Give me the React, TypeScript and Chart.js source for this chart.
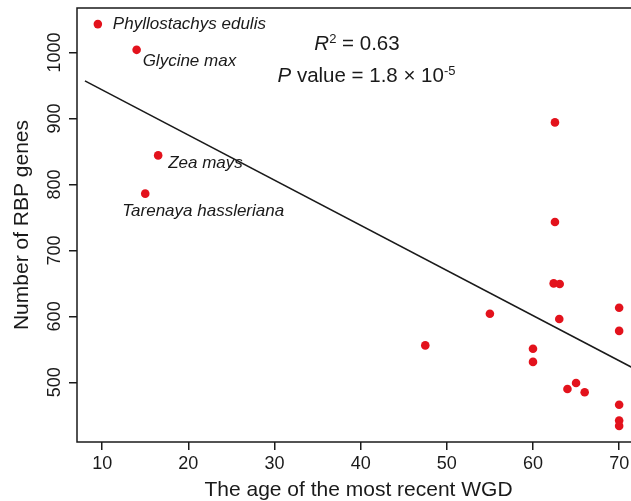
import React, { useEffect, useRef } from 'react';
import { Chart, registerables } from 'chart.js';

Chart.register(...registerables);

// ---- data ----
const wgdAge = [9.5, 14, 16.5, 15, 62.55, 62.55, 62.4, 63.1, 55, 63.05, 70, 70, 47.5, 60, 60, 65, 64, 66, 70, 70, 70];
const rbpGenes = [1043, 1004, 844, 786, 894, 743, 650, 649, 604, 596, 613, 578, 556, 551, 531, 499, 490, 485, 466, 442, 434];

const speciesNames = ['Phyllostachys edulis', 'Glycine max', 'Zea mays', 'Tarenaya hassleriana'];
const speciesIndex = [0, 1, 2, 3];

const fitAge = [8, 72];
const fitGenes = [957, 519];

const xTicks = [10, 20, 30, 40, 50, 60, 70];
const yTicks = [500, 600, 700, 800, 900, 1000];
const yTickLabels = ['500', '600', '700', '800', '900', '1000'];

const rSquared = '0.63';
const pMantissa = '1.8';
const pExponent = '-5';

const xTitle = 'The age of the most recent WGD';
const yTitle = 'Number of RBP genes';

// ---- style ----
const FONT = '"Liberation Sans", Arial, Helvetica, sans-serif';
const INK = '#1a1a1a';
const RED = '#e3121c';

// label placement offsets (pixels from the point)
const labelOffsets = [
  { dx: 15, dy: 0 },
  { dx: 6, dy: 11 },
  { dx: 10, dy: 8 },
  { dx: -23, dy: 18 },
];

const boxPlugin = {
  id: 'boxPlugin',
  afterDraw(chart: any) {
    const { ctx, chartArea } = chart;
    ctx.save();
    ctx.strokeStyle = INK;
    ctx.lineWidth = 1.5;
    ctx.strokeRect(chartArea.left, chartArea.top, chartArea.right - chartArea.left, chartArea.bottom - chartArea.top);
    // y tick labels, rotated
    const ys = chart.scales.y;
    ctx.fillStyle = INK;
    ctx.font = `18px ${FONT}`;
    ctx.textAlign = 'center';
    ctx.textBaseline = 'middle';
    yTicks.forEach((v, i) => {
      const py = ys.getPixelForValue(v);
      ctx.save();
      ctx.translate(chartArea.left - 22, py);
      ctx.rotate(-Math.PI / 2);
      ctx.fillText(yTickLabels[i], 0, 0);
      ctx.restore();
    });
    ctx.restore();
  },
};

const labelPlugin = {
  id: 'labelPlugin',
  afterDatasetsDraw(chart: any) {
    const { ctx, chartArea } = chart;
    const meta = chart.getDatasetMeta(1);
    ctx.save();
    ctx.fillStyle = INK;
    ctx.font = `italic 17px ${FONT}`;
    ctx.textAlign = 'left';
    ctx.textBaseline = 'middle';
    speciesIndex.forEach((idx, i) => {
      const el = meta.data[idx];
      if (!el) return;
      ctx.fillText(speciesNames[i], el.x + labelOffsets[i].dx, el.y + labelOffsets[i].dy);
    });

    // statistics text
    const drawRuns = (runs: { t: string; f: string; dy: number }[], cx: number, cy: number) => {
      let total = 0;
      runs.forEach((r) => {
        ctx.font = r.f;
        total += ctx.measureText(r.t).width;
      });
      let x = cx - total / 2;
      ctx.textAlign = 'left';
      ctx.textBaseline = 'alphabetic';
      runs.forEach((r) => {
        ctx.font = r.f;
        ctx.fillText(r.t, x, cy + r.dy);
        x += ctx.measureText(r.t).width;
      });
    };
    const big = `20.5px ${FONT}`;
    const bigI = `italic 20.5px ${FONT}`;
    const small = `13px ${FONT}`;
    const left = chartArea.left;
    const top = chartArea.top;
    drawRuns(
      [
        { t: 'R', f: bigI, dy: 0 },
        { t: '2', f: small, dy: -7 },
        { t: ' = ' + rSquared, f: big, dy: 0 },
      ],
      left + 280,
      top + 42
    );
    drawRuns(
      [
        { t: 'P', f: bigI, dy: 0 },
        { t: ' value = ' + pMantissa + ' \u00d7 10', f: big, dy: 0 },
        { t: pExponent, f: small, dy: -7 },
      ],
      left + 289.5,
      top + 74
    );
    ctx.restore();
  },
};

export default function App() {
  const ref = useRef<HTMLCanvasElement | null>(null);

  useEffect(() => {
    if (!ref.current) return;
    const points = wgdAge.map((x, i) => ({ x, y: rbpGenes[i] }));
    const fit = fitAge.map((x, i) => ({ x, y: fitGenes[i] }));
    const chart = new Chart(ref.current, {
      type: 'scatter',
      data: {
        datasets: [
          {
            type: 'line',
            data: fit,
            borderColor: INK,
            borderWidth: 1.6,
            pointRadius: 0,
            fill: false,
            showLine: true,
          } as any,
          {
            data: points,
            backgroundColor: RED,
            borderColor: RED,
            borderWidth: 0,
            pointRadius: 4.3,
          },
        ],
      },
      options: {
        responsive: false,
        animation: false,
        events: [],
        layout: { padding: { top: 8, right: 20, left: 0, bottom: 0 } },
        plugins: {
          legend: { display: false },
          tooltip: { enabled: false },
        },
        scales: {
          x: {
            type: 'linear',
            min: 7.08,
            max: 72.42,
            afterBuildTicks: (s: any) => {
              s.ticks = xTicks.map((v) => ({ value: v }));
            },
            afterFit: (s: any) => {
              s.height = 59;
            },
            border: { display: false },
            grid: {
              drawOnChartArea: false,
              drawTicks: true,
              tickLength: 8,
              color: INK,
              lineWidth: 1.5,
            },
            ticks: {
              color: INK,
              font: { size: 18, family: FONT },
              padding: 3,
              maxRotation: 0,
              autoSkip: false,
            },
            title: {
              display: true,
              text: xTitle,
              color: INK,
              font: { size: 21, family: FONT },
              padding: { top: 0, bottom: -2 },
            },
          },
          y: {
            type: 'linear',
            min: 409.6,
            max: 1067.4,
            afterBuildTicks: (s: any) => {
              s.ticks = yTicks.map((v) => ({ value: v }));
            },
            afterFit: (s: any) => {
              s.width = 77;
            },
            border: { display: false },
            grid: {
              drawOnChartArea: false,
              drawTicks: true,
              tickLength: 8,
              color: INK,
              lineWidth: 1.5,
            },
            ticks: { display: false },
            title: {
              display: true,
              text: yTitle,
              color: INK,
              font: { size: 21, family: FONT },
              padding: { top: 10, bottom: 0 },
            },
          },
        },
      },
      plugins: [boxPlugin, labelPlugin],
    });
    return () => chart.destroy();
  }, []);

  return (
    <div style={{ position: 'absolute', left: 0, top: 0, width: 631, height: 501, overflow: 'hidden', background: '#fff' }}>
      <canvas ref={ref} width={660} height={501} style={{ display: 'block' }} />
    </div>
  );
}
